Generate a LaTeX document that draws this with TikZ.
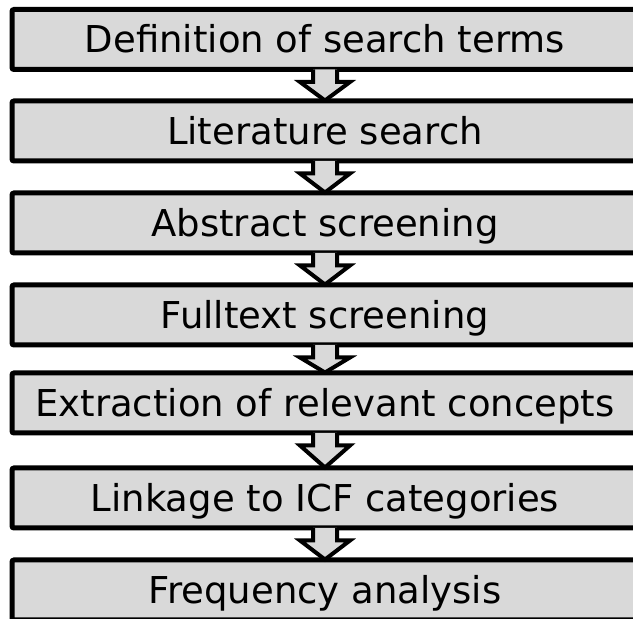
\documentclass[tikz,border=0pt]{standalone}
\usepackage{fontspec}
\setmainfont{DejaVu Sans}
\usetikzlibrary{calc}
\definecolor{boxgray}{HTML}{D9D9D9}
\tikzset{
  stepbox/.style={draw=black, fill=boxgray, line width=5pt, rounded corners=2pt,
    minimum width=626pt, minimum height=60pt, inner sep=0pt,
    text height=27pt, text depth=0pt, font=\fontsize{37}{40}\selectfont},
  arrowline/.style={draw=black, fill=boxgray, line width=4pt, line join=miter}
}
\newcommand\flowarrow[2]{%
  \path (#1.south) coordinate (fs) (#2.north) coordinate (ft);
  \filldraw[arrowline] ($(fs)+(-12,2.5)$) -- ($(fs)+(-12,-10)$) -- ($(fs)+(-25,-10)$)
    -- ($(ft)+(0,-2)$) -- ($(fs)+(25,-10)$) -- ($(fs)+(12,-10)$) -- ($(fs)+(12,2.5)$);
}
\begin{document}
\begin{tikzpicture}[x=1pt,y=1pt]
\useasboundingbox (0,0) rectangle (633,619);
\begin{scope}
\clip (0,0) rectangle (633,619);
\node[stepbox] (b1) at (325,619-39.5) {Definition of search terms};
\node[stepbox] (b2) at (325,619-131) {Literature search};
\node[stepbox] (b3) at (325,619-223) {Abstract screening};
\node[stepbox] (b4) at (325,619-315) {Fulltext screening};
\node[stepbox] (b5) at (325,619-403) {Extraction of relevant concepts};
\node[stepbox] (b6) at (325,619-498) {Linkage to ICF categories};
\node[stepbox] (b7) at (325,619-590) {Frequency analysis};
\flowarrow{b1}{b2}
\flowarrow{b2}{b3}
\flowarrow{b3}{b4}
\flowarrow{b4}{b5}
\flowarrow{b5}{b6}
\flowarrow{b6}{b7}
\end{scope}
\end{tikzpicture}
\end{document}
